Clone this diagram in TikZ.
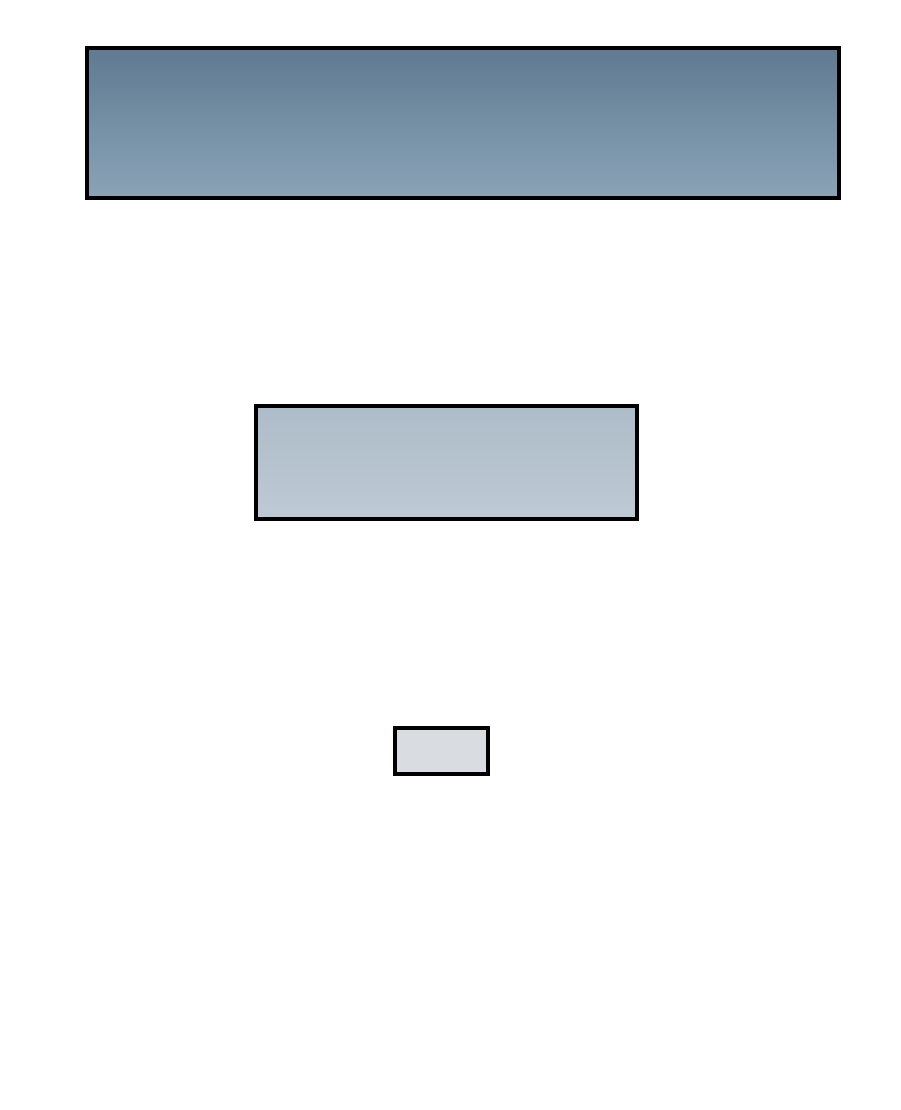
\documentclass[tikz,border=0pt]{standalone}
\begin{document}
\begin{tikzpicture}[x=1pt,y=-1pt,
  box/.style={draw=black,line width=4pt}]
\definecolor{aTop}{HTML}{5F7A91}
\definecolor{aBot}{HTML}{8AA3B7}
\definecolor{bTop}{HTML}{ADBCC9}
\definecolor{bBot}{HTML}{BECAD4}
\definecolor{cFill}{HTML}{D9DDE1}
\useasboundingbox[fill=white] (0,0) rectangle (900,1110);
\draw[box,top color=aTop,bottom color=aBot] (87,48) rectangle (839,198);
\draw[box,top color=bTop,bottom color=bBot] (256,406) rectangle (637,519);
\draw[box,fill=cFill] (395,728) rectangle (488,774);
\end{tikzpicture}
\end{document}
